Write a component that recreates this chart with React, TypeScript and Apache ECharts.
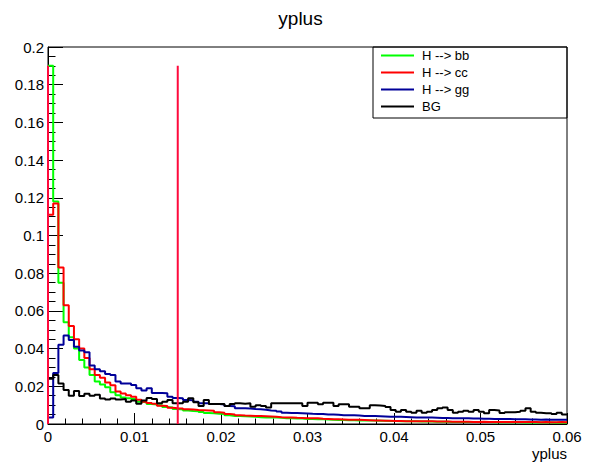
import React, { useEffect, useRef } from "react";
import * as echarts from "echarts";

// Histogram binning (100 bins over [0, 0.06])
const X_MIN = 0;
const X_MAX = 0.06;
const N_BINS = 100;

const xTicks = [0, 0.01, 0.02, 0.03, 0.04, 0.05, 0.06];
const yTicks = [0, 0.02, 0.04, 0.06, 0.08, 0.1, 0.12, 0.14, 0.16, 0.18, 0.2];

const seriesNames = ["H --> bb", "H --> cc", "H --> gg", "BG"];
const seriesColors = ["#00ff00", "#ff0000", "#000099", "#000000"];

const hbb = [
  0.19, 0.118, 0.075, 0.054, 0.046, 0.04, 0.034, 0.03, 0.026, 0.0225,
  0.021, 0.0195, 0.0168, 0.0152, 0.014, 0.0136, 0.0132, 0.0118, 0.0115, 0.0106,
  0.0104, 0.01, 0.009, 0.0087, 0.008, 0.0077, 0.0071, 0.0069, 0.0068, 0.0064,
  0.0058, 0.0057, 0.0055, 0.0053, 0.0046, 0.0043, 0.0042, 0.0041, 0.004, 0.0038,
  0.0036, 0.0035, 0.0034, 0.0034, 0.0033, 0.0031, 0.003, 0.0029, 0.0029, 0.0027,
  0.0026, 0.0025, 0.0025, 0.0024, 0.0022, 0.0021, 0.0021, 0.002, 0.002, 0.0019,
  0.0019, 0.0018, 0.0018, 0.0017, 0.0017, 0.0016, 0.0016, 0.0015, 0.0015, 0.0014,
  0.0014, 0.0013, 0.0013, 0.0013, 0.0012, 0.0012, 0.0012, 0.0011, 0.0011, 0.0011,
  0.001, 0.0011, 0.001, 0.001, 0.001, 0.0009, 0.001, 0.0009, 0.0009, 0.0009,
  0.0009, 0.0008, 0.0009, 0.0008, 0.0008, 0.0008, 0.0008, 0.0007, 0.0008, 0.0007,
];

const hcc = [
  0.111, 0.117, 0.083, 0.063, 0.052, 0.045, 0.04, 0.035, 0.029, 0.026,
  0.0245, 0.022, 0.0205, 0.0172, 0.0162, 0.0152, 0.0145, 0.0128, 0.0118, 0.0112,
  0.0108, 0.0097, 0.0095, 0.0086, 0.0083, 0.0082, 0.0078, 0.0077, 0.0074, 0.0073,
  0.0072, 0.007, 0.0062, 0.006, 0.0053, 0.0051, 0.0047, 0.0045, 0.0044, 0.0043,
  0.0042, 0.0041, 0.004, 0.0039, 0.0036, 0.0035, 0.0035, 0.0033, 0.0032, 0.0031,
  0.003, 0.003, 0.0028, 0.0027, 0.0025, 0.0025, 0.0024, 0.0023, 0.0022, 0.0022,
  0.0021, 0.002, 0.0018, 0.0018, 0.0017, 0.0017, 0.0016, 0.0016, 0.0015, 0.0015,
  0.0015, 0.0014, 0.0014, 0.0014, 0.0013, 0.0013, 0.0013, 0.0012, 0.0012, 0.0012,
  0.0012, 0.0011, 0.0011, 0.0012, 0.0011, 0.0011, 0.001, 0.0011, 0.001, 0.001,
  0.001, 0.001, 0.0011, 0.001, 0.0009, 0.001, 0.0009, 0.0009, 0.001, 0.0009,
];

const hgg = [
  0.0035, 0.027, 0.042, 0.047, 0.0445, 0.041, 0.039, 0.038, 0.031, 0.029,
  0.028, 0.0265, 0.026, 0.0225, 0.0215, 0.0215, 0.0207, 0.019, 0.0178, 0.019,
  0.0164, 0.0165, 0.0163, 0.0145, 0.0138, 0.0137, 0.0127, 0.0126, 0.0118, 0.011,
  0.011, 0.0106, 0.0106, 0.0104, 0.0095, 0.0094, 0.0084, 0.0083, 0.0082, 0.0079,
  0.0078, 0.0075, 0.0072, 0.007, 0.0066, 0.006, 0.0058, 0.0058, 0.0057, 0.0056,
  0.0054, 0.0053, 0.0053, 0.005, 0.005, 0.0049, 0.0047, 0.0047, 0.0046, 0.0045,
  0.0043, 0.0042, 0.0042, 0.0041, 0.004, 0.0039, 0.0038, 0.0038, 0.0037, 0.0036,
  0.0035, 0.0035, 0.0034, 0.0034, 0.0033, 0.0032, 0.0032, 0.0031, 0.0031, 0.003,
  0.003, 0.0029, 0.0029, 0.0028, 0.0028, 0.0027, 0.0027, 0.0026, 0.0026, 0.0025,
  0.0025, 0.0025, 0.0024, 0.0024, 0.0023, 0.0024, 0.0023, 0.0022, 0.0023, 0.0022,
];

const hbg = [
  0.024, 0.026, 0.0215, 0.018, 0.015, 0.0175, 0.0148, 0.016, 0.015, 0.0155,
  0.0135, 0.013, 0.0135, 0.013, 0.0133, 0.0118, 0.0125, 0.0108, 0.0125, 0.0138,
  0.0132, 0.011, 0.0118, 0.0127, 0.011, 0.011, 0.0118, 0.0136, 0.0115, 0.0095,
  0.0127, 0.0106, 0.0106, 0.0106, 0.0095, 0.0106, 0.011, 0.0108, 0.011, 0.0092,
  0.01, 0.0095, 0.0088, 0.011, 0.011, 0.011, 0.011, 0.011, 0.011, 0.0095,
  0.0113, 0.0113, 0.0105, 0.0113, 0.0113, 0.0095, 0.0105, 0.0105, 0.0092, 0.0092,
  0.0083, 0.0083, 0.01, 0.0098, 0.0095, 0.009, 0.0074, 0.0065, 0.0074, 0.0065,
  0.006, 0.007, 0.006, 0.0065, 0.0074, 0.0083, 0.0087, 0.0074, 0.006, 0.0065,
  0.007, 0.0065, 0.0074, 0.0065, 0.0057, 0.0074, 0.0072, 0.0058, 0.0062, 0.0062,
  0.0065, 0.007, 0.0083, 0.0065, 0.006, 0.0057, 0.0057, 0.0053, 0.006, 0.0051,
];

// Vertical cut lines
const cutPositions = [0, 0.015];
const cutHeight = 0.19;

const binWidth = (X_MAX - X_MIN) / N_BINS;
const binEdges = Array.from({ length: N_BINS + 1 }, (_, i) => X_MIN + i * binWidth);

function histPoints(vals: number[]) {
  const pts: number[][] = vals.map((v, i) => [binEdges[i], v]);
  pts.push([binEdges[N_BINS], vals[vals.length - 1]]);
  return pts;
}

const FONT = "'Liberation Sans', Arial, Helvetica, sans-serif";

export default function App() {
  const ref = useRef<HTMLDivElement>(null);
  useEffect(() => {
    if (!ref.current) return;
    const chart = echarts.init(ref.current, undefined, { renderer: "svg" });
    const hists = [hbb, hcc, hgg, hbg];
    const series: any[] = hists.map((h, i) => ({
      name: seriesNames[i],
      type: "line",
      step: "end",
      data: histPoints(h),
      symbol: "none",
      showSymbol: false,
      lineStyle: { color: seriesColors[i], width: 2 },
      itemStyle: { color: seriesColors[i] },
      z: 2 + i,
    }));
    cutPositions.forEach((c, i) => {
      series.push({
        name: "cut" + i,
        type: "line",
        data: [
          [c, 0],
          [c, cutHeight],
        ],
        symbol: "none",
        showSymbol: false,
        lineStyle: { color: "#ff0a3c", width: 2 },
        itemStyle: { color: "#ff0a3c" },
        z: 10,
        clip: false,
      });
    });

    chart.setOption({
      animation: false,
      backgroundColor: "#ffffff",
      textStyle: { fontFamily: FONT },
      title: {
        text: "yplus",
        left: "center",
        top: 4,
        textStyle: { fontFamily: FONT, fontSize: 19, fontWeight: "normal", color: "#000" },
      },
      grid: {
        left: 48,
        right: 34,
        top: 47,
        bottom: 39,
        show: true,
        borderColor: "#000",
        borderWidth: 1,
        backgroundColor: "transparent",
      },
      legend: {
        data: seriesNames,
        orient: "vertical",
        left: 380,
        top: 49,
        padding: 0,
        itemGap: 4,
        itemWidth: 33,
        itemHeight: 14,
        itemStyle: { opacity: 0 },
        lineStyle: { width: 2 },
        textStyle: { fontFamily: FONT, fontSize: 13, color: "#000", padding: [0, 0, 0, 3] },
      },
      xAxis: {
        type: "value",
        min: X_MIN,
        max: X_MAX,
        interval: 0.01,
        axisLine: { show: true, lineStyle: { color: "#000", width: 1 } },
        axisTick: { show: true, inside: true, length: 11, lineStyle: { color: "#000" } },
        minorTick: { show: true, splitNumber: 5, length: 5.5, lineStyle: { color: "#000" } },
        splitLine: { show: false },
        axisLabel: {
          margin: 5,
          fontFamily: FONT,
          fontSize: 15,
          color: "#000",
          formatter: (v: number) => {
            const t = xTicks.find((x) => Math.abs(x - v) < 1e-9);
            return t === undefined ? "" : String(t);
          },
        },
      },
      yAxis: {
        type: "value",
        min: 0,
        max: 0.2,
        interval: 0.02,
        axisLine: { show: true, lineStyle: { color: "#000", width: 1 } },
        axisTick: { show: true, inside: true, length: 15, lineStyle: { color: "#000" } },
        minorTick: { show: true, splitNumber: 4, length: 7.5, lineStyle: { color: "#000" } },
        splitLine: { show: false },
        axisLabel: {
          margin: 4,
          fontFamily: FONT,
          fontSize: 15,
          color: "#000",
          formatter: (v: number) => {
            const t = yTicks.find((y) => Math.abs(y - v) < 1e-9);
            return t === undefined ? "" : String(t);
          },
        },
      },
      graphic: [
        {
          type: "rect",
          shape: { x: 373, y: 47, width: 194, height: 71 },
          style: { fill: "transparent", stroke: "#000", lineWidth: 1 },
          z: 20,
          silent: true,
        },
        {
          type: "text",
          x: 567,
          y: 453,
          style: {
            text: "yplus",
            fontFamily: FONT,
            fontSize: 15,
            fill: "#000",
            align: "right",
            verticalAlign: "middle",
          },
        },
      ],
      series,
    });
    return () => chart.dispose();
  }, []);
  return (
    <div
      ref={ref}
      style={{ position: "fixed", left: 0, top: 0, width: 601, height: 463, background: "#fff" }}
    />
  );
}
